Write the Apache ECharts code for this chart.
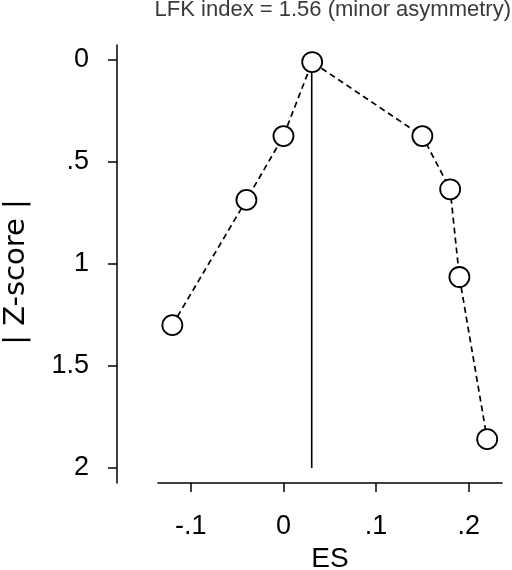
<!DOCTYPE html>
<html><head><meta charset="utf-8">
<script src="https://cdn.jsdelivr.net/npm/echarts@6/dist/echarts.min.js"></script>
<style>html,body{margin:0;padding:0;background:#fff}#c{width:512px;height:570px}</style>
</head><body><div id="c"></div>
<script>
const esValues = [-0.12, -0.04, 0.0, 0.031, 0.15, 0.18, 0.19, 0.22];
const zValues = [1.30, 0.686, 0.373, 0.01, 0.373, 0.634, 1.064, 1.859];
const refLineX = [0.0305, 0.0305];
const refLineZ = [0, 2];
const xTicks = [-0.1, 0, 0.1, 0.2];
const xTickLabels = ['-.1', '0', '.1', '.2'];
const yTicks = [0, 0.5, 1, 1.5, 2];
const yTickLabels = ['0', '.5', '1', '1.5', '2'];
const titleText = 'LFK index = 1.56 (minor asymmetry)';

const FONT = '"Liberation Sans", Arial, Helvetica, sans-serif';
const chart = echarts.init(document.getElementById('c'), null, {renderer: 'canvas'});
chart.setOption({
  animation: false,
  backgroundColor: '#fff',
  title: {
    text: titleText, right: 1, top: -1, padding: 0,
    textStyle: {fontFamily: FONT, fontSize: 22, fontWeight: 'normal', color: '#3a3a3a'}
  },
  grid: {left: 158, right: 10, top: 45, bottom: 87, outerBoundsMode: 'none', containLabel: false},
  xAxis: {
    type: 'value', min: -0.1355, max: 0.236,
    name: 'ES', nameLocation: 'middle', nameGap: 61,
    nameTextStyle: {fontFamily: FONT, fontSize: 28, color: '#000'},
    axisLine: {show: true, onZero: false, lineStyle: {color: '#000', width: 1.5}},
    axisTick: {show: true, length: 9, customValues: xTicks, lineStyle: {color: '#000', width: 1.5}},
    axisLabel: {customValues: xTicks, margin: 30, fontFamily: FONT, fontSize: 27, color: '#000',
      formatter: v => xTickLabels[xTicks.findIndex(t => Math.abs(t - v) < 1e-9)]},
    splitLine: {show: false}
  },
  yAxis: {
    type: 'value', inverse: true, min: -0.0735, max: 2.074, offset: 41,
    name: '| Z-score |', nameLocation: 'middle', nameGap: 86, nameRotate: 90,
    nameTextStyle: {fontFamily: '"DejaVu Sans", sans-serif', fontSize: 29, color: '#000', padding: [0, 16, 0, 0]},
    axisLine: {show: true, onZero: false, lineStyle: {color: '#000', width: 1.5}},
    axisTick: {show: true, length: 9, customValues: yTicks, lineStyle: {color: '#000', width: 1.5}},
    axisLabel: {customValues: yTicks, margin: 28, fontFamily: FONT, fontSize: 27, color: '#000',
      formatter: v => yTickLabels[yTicks.findIndex(t => Math.abs(t - v) < 1e-9)]},
    splitLine: {show: false}
  },
  series: [
    {
      type: 'line', z: 1, symbol: 'none', silent: true,
      data: refLineX.map((x, i) => [x, refLineZ[i]]),
      lineStyle: {color: '#000', width: 1.6}
    },
    {
      type: 'line', z: 2, symbol: 'circle', symbolSize: 20,
      data: esValues.map((x, i) => [x, zValues[i]]),
      lineStyle: {color: '#000', width: 1.7, type: [6, 4]},
      itemStyle: {color: '#fff', borderColor: '#000', borderWidth: 1.8}
    }
  ]
});
</script></body></html>
